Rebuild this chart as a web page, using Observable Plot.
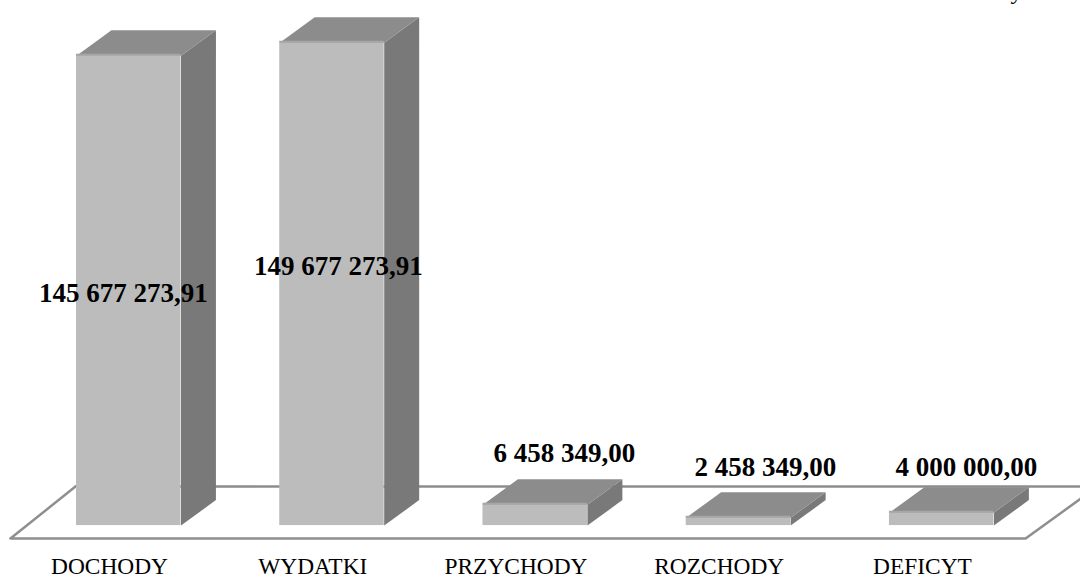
<!DOCTYPE html>
<html><head><meta charset="utf-8">
<script src="https://cdn.jsdelivr.net/npm/d3@7"></script>
<script src="https://cdn.jsdelivr.net/npm/@observablehq/plot@0.6"></script>
<style>html,body{margin:0;padding:0;background:#fff}svg{display:block}</style>
</head><body><div id="chart"></div>
<script>
const categories = ["DOCHODY","WYDATKI","PRZYCHODY","ROZCHODY","DEFICYT"];
const values = [145677273.91,149677273.91,6458349.00,2458349.00,4000000.00];
const valueLabels = ["145 677 273,91","149 677 273,91","6 458 349,00","2 458 349,00","4 000 000,00"];
const labelShiftX = [0.231,0.289,0.401,0.39,0.379];
const labelLevel = [71.9e6,80.3e6,22.3e6,18e6,18e6];

const barW = 0.514, depthX = 0.172, depthY = 7.9e6;
const bars = values.map((v,i)=>({i,v}));
const side = bars.flatMap(({i,v})=>[[i+barW,0],[i+barW+depthX,depthY],[i+barW+depthX,v+depthY],[i+barW,v]].map(([x,y])=>({id:i,x,y})));
const top_ = bars.flatMap(({i,v})=>[[i,v],[i+barW,v],[i+barW+depthX,v+depthY],[i+depthX,v+depthY]].map(([x,y])=>({id:i,x,y})));
const floorFront = -4e6, floorBack = 12.1e6;
const floorLine = [
  {x:-0.005,y:floorBack},{x:-0.325,y:floorFront},{x:4.67,y:floorFront},{x:4.94,y:8.3e6}
];
const floorBackLine = [{x:-0.005,y:floorBack},{x:4.94,y:floorBack}];
const font = "'Liberation Serif','Times New Roman',serif";

const chart = Plot.plot({
  width:1080,height:577,margin:0,
  style:{fontFamily:font,background:"#fff",color:"#000"},
  x:{domain:[-0.374,4.94],range:[0,1080],axis:null},
  y:{domain:[162.8e6,-16.1e6],range:[0,577],axis:null},
  marks:[
    Plot.line(floorBackLine,{x:"x",y:"y",stroke:"#8c8c8c",strokeWidth:2.5}),
    Plot.line(floorLine,{x:"x",y:"y",stroke:"#8f8f8f",strokeWidth:2.5}),
    Plot.line(side,{x:"x",y:"y",z:"id",curve:"linear-closed",fill:"#797979",stroke:"none"}),
    Plot.line(top_,{x:"x",y:"y",z:"id",curve:"linear-closed",fill:"#8c8c8c",stroke:"none"}),
    Plot.rect(bars,{x1:"i",x2:d=>d.i+barW,y1:0,y2:"v",fill:"#bcbcbc"}),
    Plot.ruleY(bars,{x1:"i",x2:d=>d.i+barW,y:"v",stroke:"#a6a6a6",strokeWidth:2,dy:-1}),
    Plot.text(bars,{x:d=>d.i+labelShiftX[d.i],y:d=>labelLevel[d.i],text:d=>valueLabels[d.i],fontSize:27,fontWeight:"bold",fill:"#000"}),
    Plot.axisX({anchor:"bottom",ticks:[0,1,2,3,4],tickFormat:i=>categories[i],tickSize:0,tickPadding:0,dx:33,dy:-4,fontSize:23.4,lineAnchor:"bottom",color:"#000"}),
    Plot.text(["y"],{frameAnchor:"top-right",dx:-58,dy:-19,fontSize:24,fill:"#000"})
  ]
});
document.getElementById("chart").append(chart);
</script></body></html>
